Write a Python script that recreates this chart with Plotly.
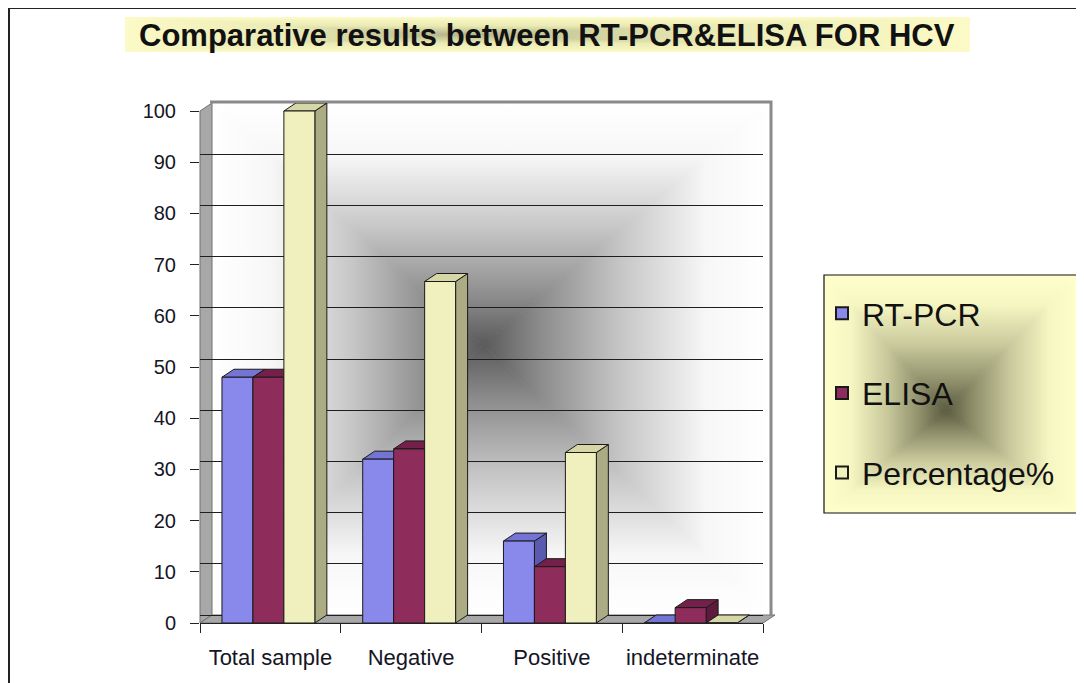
import base64
import plotly.graph_objects as go

# ---- data ----
categories = ["Total sample", "Negative", "Positive", "indeterminate"]
rt_pcr = [48, 32, 16, 0]
elisa = [48, 34, 11, 3]
percentage = [100, 66.7, 33.3, 0]
y_tick_values = [0, 10, 20, 30, 40, 50, 60, 70, 80, 90, 100]
series_names = ["RT-PCR", "ELISA", "Percentage%"]
title_text = "Comparative results between RT-PCR&ELISA FOR HCV"

# ---- layout geometry (screen pixels; page body has an 8px margin) ----
O = 8
W, H = 1084 - O, 683 - O
PL, PR, PT, PB = 200, 763, 103, 623          # plot area on screen
Y100 = 111                                     # screen y of value 100 (front plane)
Y_MAX = 100 * (PB - PT) / (PB - Y100)
DEPTH_X = 12 / ((PR - PL) / len(categories))  # 3-D depth in category units
DEPTH_Y = 8 * 100 / (PB - Y100)               # 3-D depth in value units


def px(x):
    return (x - PL) / (PR - PL)


def py(y):
    return (PB - y) / (PB - PT)


def grad_svg(w, h, stops, cx, cy):
    """Excel-like 'from centre' rectangular gradient as an SVG data URI.
    stops: list of (offset, colour) from edge (0) to centre (1)."""
    cxp, cyp = cx * w, cy * h
    stop_xml = "".join(f'<stop offset="{o}" stop-color="{c}"/>' for o, c in stops)

    def lg(i, x1, y1, x2, y2):
        return (f'<linearGradient id="{i}" gradientUnits="userSpaceOnUse" x1="{x1}" y1="{y1}" '
                f'x2="{x2}" y2="{y2}">{stop_xml}</linearGradient>')

    s = (f'<svg xmlns="http://www.w3.org/2000/svg" width="{w}" height="{h}" '
         f'viewBox="0 0 {w} {h}" preserveAspectRatio="none"><defs>')
    s += lg("t", 0, 0, 0, cyp) + lg("b", 0, h, 0, cyp) + lg("l", 0, 0, cxp, 0) + lg("r", w, 0, cxp, 0)
    s += "</defs>"
    s += f'<rect x="0" y="0" width="{w}" height="{h}" fill="{stops[0][1]}"/>'
    polys = {
        "t": f"0,0 {w},0 {cxp},{cyp}",
        "b": f"0,{h} {w},{h} {cxp},{cyp}",
        "l": f"0,0 0,{h} {cxp},{cyp}",
        "r": f"{w},0 {w},{h} {cxp},{cyp}",
    }
    for k, p in polys.items():
        s += f'<polygon points="{p}" fill="url(#{k})" stroke="url(#{k})" stroke-width="0.8"/>'
    s += "</svg>"
    return "data:image/svg+xml;base64," + base64.b64encode(s.encode()).decode()


def img(src, x0, y0, x1, y1):
    return dict(source=src, xref="paper", yref="paper", x=px(x0), y=py(y0),
                sizex=(x1 - x0) / (PR - PL), sizey=(y1 - y0) / (PB - PT),
                xanchor="left", yanchor="top", sizing="stretch", layer="below")


def path(points):
    pts = [f"{px(x)},{py(y)}" for x, y in points]
    return "M" + " L".join(pts) + " Z"


FONT = "Liberation Sans, Arial, sans-serif"
front_colors = ["#8989EC", "#8E2C5C", "#F0EFBE"]
top_colors = ["#7474D4", "#74204A", "#D6D6A6"]
side_colors = ["#5A5AAE", "#5E1A3C", "#ABAB84"]
outline = "#1a1a1a"
BAR_W = 0.22
BAR_OFF0 = -0.344

fig = go.Figure()
shapes = []
all_series = [rt_pcr, elisa, percentage]
for i, (name, vals) in enumerate(zip(series_names, all_series)):
    off = BAR_OFF0 + BAR_W * i
    fig.add_trace(go.Bar(
        x=categories, y=vals, name=name, legendgroup=name,
        width=BAR_W, offset=off,
        marker=dict(color=front_colors[i], line=dict(color=outline, width=1)),
    ))
    # 3-D top and side faces, derived from the bar values via the data axes
    for c, v in enumerate(vals):
        xl, xr = c + off, c + off + BAR_W
        top = f"M{xl},{v} L{xr},{v} L{xr + DEPTH_X},{v + DEPTH_Y} L{xl + DEPTH_X},{v + DEPTH_Y} Z"
        side = f"M{xr},0 L{xr},{v} L{xr + DEPTH_X},{v + DEPTH_Y} L{xr + DEPTH_X},{DEPTH_Y} Z"
        shapes.append(dict(type="path", xref="x", yref="y", path=side, fillcolor=side_colors[i],
                           line=dict(color=outline, width=1), layer="between"))
        shapes.append(dict(type="path", xref="x", yref="y", path=top, fillcolor=top_colors[i],
                           line=dict(color=outline, width=1), layer="between"))

# invisible helper trace on the shifted axis (back-wall gridlines)
fig.add_trace(go.Scatter(x=categories, y=percentage, yaxis="y2", mode="lines",
                         line=dict(width=0), showlegend=False, hoverinfo="skip", opacity=0))

wall_stops = [(0, "#FFFFFF"), (0.22, "#F7F7F7"), (0.52, "#C6C6C6"), (0.8, "#8C8C8C"), (1, "#5A5A5A")]
legend_stops = [(0, "#FFFFCC"), (0.22, "#F6F6C2"), (0.52, "#C8C89C"), (0.8, "#8C8C68"), (1, "#5A5A40")]
title_stops = [(0, "#FCFAC6"), (0.5, "#EAEAB4"), (1, "#B6B68C")]

images = [
    img(grad_svg(558, 512, wall_stops, 0.486, 0.473), 212, 103, 770, 615),
    img(grad_svg(254, 238, legend_stops, 0.48, 0.57), 824, 275, 1078, 513),
    img(grad_svg(845, 35, title_stops, 0.39, 0.5), 125, 17, 970, 52),
]

decor = [
    # left side wall
    dict(type="path", xref="paper", yref="paper", path=path([(200, 111), (212, 103), (212, 615), (200, 623)]),
         fillcolor="#A8A8A8", line=dict(color="#707070", width=1), layer="below"),
    # floor
    dict(type="path", xref="paper", yref="paper", path=path([(200, 623), (212, 615), (775, 615), (763, 623)]),
         fillcolor="#A8A8A8", line=dict(color="#707070", width=1), layer="below"),
    # wall frame top & right
    dict(type="path", xref="paper", yref="paper",
         path=f"M{px(210)},{py(102)} L{px(771)},{py(102)} L{px(771)},{py(616)}",
         line=dict(color="#8A8A8A", width=3), layer="below"),
    # legend border
    dict(type="rect", xref="paper", yref="paper", x0=px(824), y0=py(275), x1=px(1078), y1=py(513),
         line=dict(color="#111111", width=1.2), fillcolor="rgba(0,0,0,0)", layer="above"),
    # outer frame (top and left)
    dict(type="line", xref="paper", yref="paper", x0=px(8), y0=py(8), x1=px(1090), y1=py(8),
         line=dict(color="#222222", width=2)),
    dict(type="line", xref="paper", yref="paper", x0=px(9), y0=py(8), x1=px(9), y1=py(690),
         line=dict(color="#222222", width=2)),
    # little dotted mark at the top
    dict(type="line", xref="paper", yref="paper", x0=px(290), y0=py(5), x1=px(418), y1=py(5),
         line=dict(color="#5A6E3C", width=1, dash="dot")),
]

fig.update_layout(
    width=W, height=H,
    margin=dict(l=PL - O, r=W - (PR - O), t=PT - O, b=H - (PB - O), pad=0, autoexpand=False),
    paper_bgcolor="white", plot_bgcolor="rgba(0,0,0,0)",
    barmode="overlay",
    font=dict(family=FONT, color="#151525"),
    images=images, shapes=decor + shapes,
    showlegend=True,
    legend=dict(x=px(822), y=py(286), xanchor="left", yanchor="top",
                bgcolor="rgba(0,0,0,0)", borderwidth=0,
                font=dict(family=FONT, size=32, color="#111111"),
                tracegroupgap=35, itemsizing="constant"),
    annotations=[dict(text="<b>" + title_text + "</b>", xref="paper", yref="paper",
                      x=px(547), y=py(35), xanchor="center", yanchor="middle",
                      showarrow=False, font=dict(family=FONT, size=31, color="#111111"))],
    xaxis=dict(type="category", range=[-0.5, 3.5], showgrid=False, showline=True,
               linecolor="#222222", linewidth=1, automargin=False, tickangle=0,
               ticks="outside", tickson="boundaries", ticklen=9, tickcolor="#222222",
               tickfont=dict(family=FONT, size=22, color="#151525"), ticklabelstandoff=15,
               fixedrange=True),
    yaxis=dict(range=[0, Y_MAX], tickvals=y_tick_values, showgrid=False, zeroline=False,
               showline=False, automargin=False,
               ticks="outside", ticklen=9, tickcolor="#222222",
               tickfont=dict(family=FONT, size=20, color="#151525"), ticklabelstandoff=10),
    yaxis2=dict(overlaying="y", range=[-DEPTH_Y, Y_MAX - DEPTH_Y], tickvals=y_tick_values,
                showgrid=True, gridcolor="#1E1E1E", gridwidth=1, showticklabels=False,
                zeroline=False, showline=False, ticks="", automargin=False),
)

fig.write_html("out.html")
